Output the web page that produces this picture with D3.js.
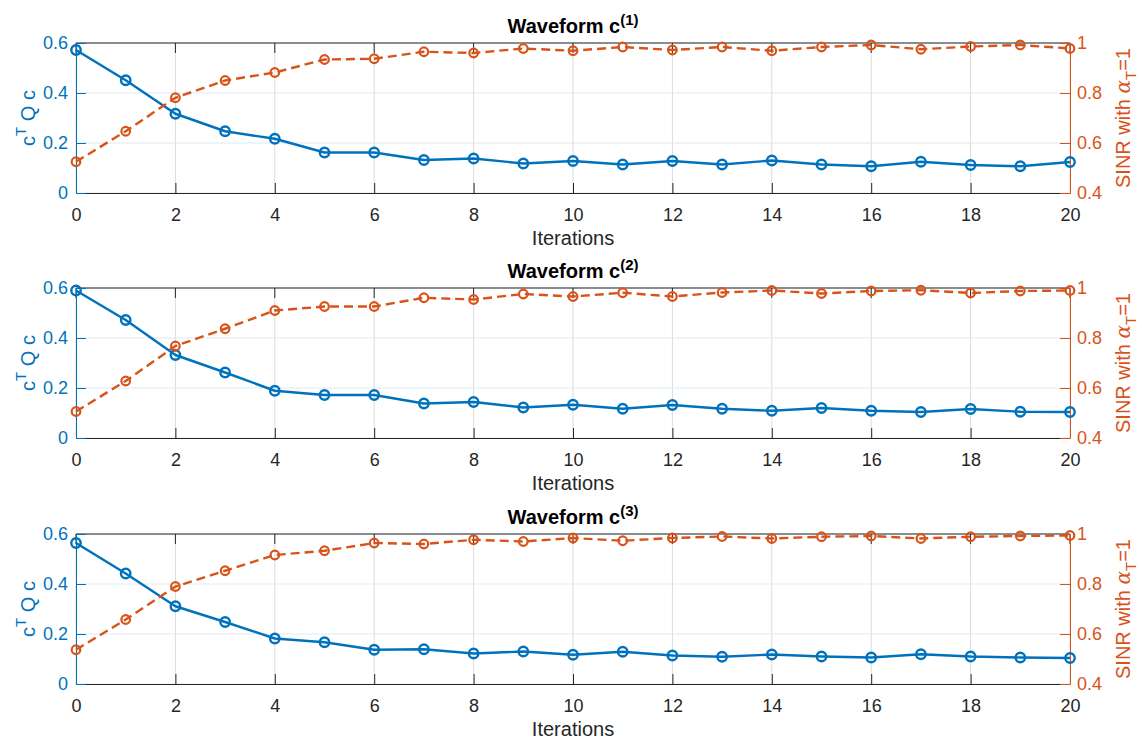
<!DOCTYPE html>
<html><head><meta charset="utf-8">
<script src="https://cdn.jsdelivr.net/npm/d3@7"></script>
<style>
body{margin:0;background:#fff;}
text{font-family:"Liberation Sans",Arial,Helvetica,sans-serif;}
</style></head>
<body>
<svg id="chart" width="1142" height="745"></svg>
<script>
// ---- data ----
const iterations = d3.range(0, 21);
const panelTitles = ["1", "2", "3"];
const xTicks = [0, 2, 4, 6, 8, 10, 12, 14, 16, 18, 20];
const leftTicks = [0, 0.2, 0.4, 0.6];
const rightTicks = [0.4, 0.6, 0.8, 1];
const leftLabels = ["0", "0.2", "0.4", "0.6"];
const rightLabels = ["0.4", "0.6", "0.8", "1"];

const cQc1 = [0.572,0.451,0.317,0.247,0.217,0.162,0.162,0.132,0.138,0.118,0.128,0.114,0.128,0.114,0.130,0.114,0.107,0.125,0.112,0.107,0.124];
const sinr1 = [0.525,0.647,0.781,0.850,0.882,0.934,0.937,0.965,0.960,0.978,0.969,0.984,0.972,0.984,0.969,0.984,0.992,0.975,0.986,0.992,0.978];
const cQc2 = [0.590,0.472,0.332,0.262,0.189,0.172,0.172,0.138,0.144,0.122,0.133,0.117,0.132,0.117,0.109,0.120,0.109,0.104,0.116,0.105,0.104];
const sinr2 = [0.506,0.628,0.768,0.837,0.910,0.926,0.926,0.961,0.954,0.976,0.966,0.981,0.966,0.982,0.990,0.978,0.988,0.991,0.980,0.988,0.990];
const cQc3 = [0.564,0.442,0.311,0.248,0.182,0.167,0.137,0.139,0.122,0.130,0.117,0.129,0.114,0.109,0.118,0.110,0.106,0.119,0.110,0.106,0.104];
const sinr3 = [0.537,0.658,0.790,0.853,0.916,0.933,0.964,0.960,0.977,0.970,0.984,0.973,0.984,0.990,0.982,0.989,0.992,0.982,0.989,0.992,0.994];

const leftSeries = [cQc1, cQc2, cQc3];
const rightSeries = [sinr1, sinr2, sinr3];

// ---- layout ----
const BLUE = "#0072BD", ORANGE = "#D95319", DARK = "#262626";
const X0 = 76, X1 = 1070;
const panelTops = [43, 288, 534];
const PH = 150;
const svg = d3.select("#chart");
const FONT = "Liberation Sans, Arial, sans-serif";

const x = d3.scaleLinear().domain([0, 20]).range([X0, X1]);

panelTops.forEach((top, pi) => {
  const bottom = top + PH;
  const yL = d3.scaleLinear().domain([0, 0.6]).range([bottom, top]);
  const yR = d3.scaleLinear().domain([0.4, 1]).range([bottom, top]);
  const g = svg.append("g");

  // grid
  g.selectAll(".vg").data(xTicks).join("line")
    .attr("x1", d => x(d)).attr("x2", d => x(d)).attr("y1", top).attr("y2", bottom)
    .attr("stroke", "#dcdcdc").attr("stroke-width", 1);
  g.selectAll(".hg").data(leftTicks).join("line")
    .attr("x1", X0).attr("x2", X1).attr("y1", d => yL(d)).attr("y2", d => yL(d))
    .attr("stroke", "#dbe9f5").attr("stroke-width", 1);

  // top border + ticks
  g.append("line").attr("x1", X0).attr("x2", X1).attr("y1", top).attr("y2", top)
    .attr("stroke", DARK).attr("stroke-width", 1);
  g.selectAll(".tt").data(xTicks).join("line")
    .attr("x1", d => x(d)).attr("x2", d => x(d)).attr("y1", top).attr("y2", top + 10)
    .attr("stroke", DARK).attr("stroke-width", 1);

  // bottom axis
  const xAxis = d3.axisBottom(x).tickValues(xTicks).tickSizeInner(-10).tickSizeOuter(0).tickPadding(15);
  const gx = g.append("g").attr("transform", `translate(0,${bottom})`).call(xAxis);
  gx.select(".domain").attr("stroke", DARK);
  gx.selectAll(".tick line").attr("stroke", DARK);
  gx.selectAll(".tick text").attr("fill", DARK).attr("font-size", 18).attr("font-family", FONT);

  // left axis
  const lAxis = d3.axisLeft(yL).tickValues(leftTicks).tickFormat((d, i) => leftLabels[i])
    .tickSizeInner(-10).tickSizeOuter(0).tickPadding(8);
  const gl = g.append("g").attr("transform", `translate(${X0},0)`).call(lAxis);
  gl.select(".domain").attr("stroke", BLUE);
  gl.selectAll(".tick line").attr("stroke", BLUE);
  gl.selectAll(".tick text").attr("fill", BLUE).attr("font-size", 18).attr("font-family", FONT);

  // right axis
  const rAxis = d3.axisRight(yR).tickValues(rightTicks).tickFormat((d, i) => rightLabels[i])
    .tickSizeInner(-10).tickSizeOuter(0).tickPadding(7);
  const gr = g.append("g").attr("transform", `translate(${X1},0)`).call(rAxis);
  gr.select(".domain").attr("stroke", ORANGE);
  gr.selectAll(".tick line").attr("stroke", ORANGE);
  gr.selectAll(".tick text").attr("fill", ORANGE).attr("font-size", 18).attr("font-family", FONT);

  // series
  const lv = leftSeries[pi], rv = rightSeries[pi];
  const lineL = d3.line().x((d, i) => x(iterations[i])).y(d => yL(d));
  const lineR = d3.line().x((d, i) => x(iterations[i])).y(d => yR(d));

  g.append("path").attr("d", lineL(lv)).attr("fill", "none")
    .attr("stroke", BLUE).attr("stroke-width", 2.4).attr("stroke-linejoin", "round");
  g.selectAll(".mL").data(lv).join("circle")
    .attr("cx", (d, i) => x(iterations[i])).attr("cy", d => yL(d)).attr("r", 4.7)
    .attr("fill", "none").attr("stroke", BLUE).attr("stroke-width", 2.4);

  g.append("path").attr("d", lineR(rv)).attr("fill", "none")
    .attr("stroke", ORANGE).attr("stroke-width", 2.4).attr("stroke-dasharray", "9,5");
  g.selectAll(".mR").data(rv).join("circle")
    .attr("cx", (d, i) => x(iterations[i])).attr("cy", d => yR(d)).attr("r", 4.3)
    .attr("fill", "none").attr("stroke", ORANGE).attr("stroke-width", 2.2);

  // title
  const t = g.append("text").attr("x", (X0 + X1) / 2).attr("y", top - 10)
    .attr("text-anchor", "middle").attr("font-size", 20).attr("font-weight", "bold").attr("fill", "#000");
  t.append("tspan").text("Waveform c");
  t.append("tspan").attr("dy", -8).attr("font-size", 15).text("(" + panelTitles[pi] + ")");

  // x label
  g.append("text").attr("x", (X0 + X1) / 2).attr("y", bottom + 52)
    .attr("text-anchor", "middle").attr("font-size", 20).attr("fill", DARK).text("Iterations");

  // left label
  const cy = (top + bottom) / 2;
  const ll = g.append("text").attr("transform", `translate(35,${cy}) rotate(-90)`)
    .attr("text-anchor", "middle").attr("font-size", 20).attr("fill", BLUE);
  ll.append("tspan").text("c");
  ll.append("tspan").attr("dy", -9).attr("font-size", 15).text("T");
  ll.append("tspan").attr("dy", 9).text(" Q c");

  // right label
  const rl = g.append("text").attr("transform", `translate(1130,${cy}) rotate(-90)`)
    .attr("text-anchor", "middle").attr("font-size", 20).attr("fill", ORANGE);
  rl.append("tspan").text("SINR with ");
  rl.append("tspan").attr("font-family", "DejaVu Serif, serif").attr("font-style", "italic").text("α");
  rl.append("tspan").attr("dy", 6).attr("font-size", 15).text("T");
  rl.append("tspan").attr("dy", -6).text("=1");
});
</script>
</body></html>
